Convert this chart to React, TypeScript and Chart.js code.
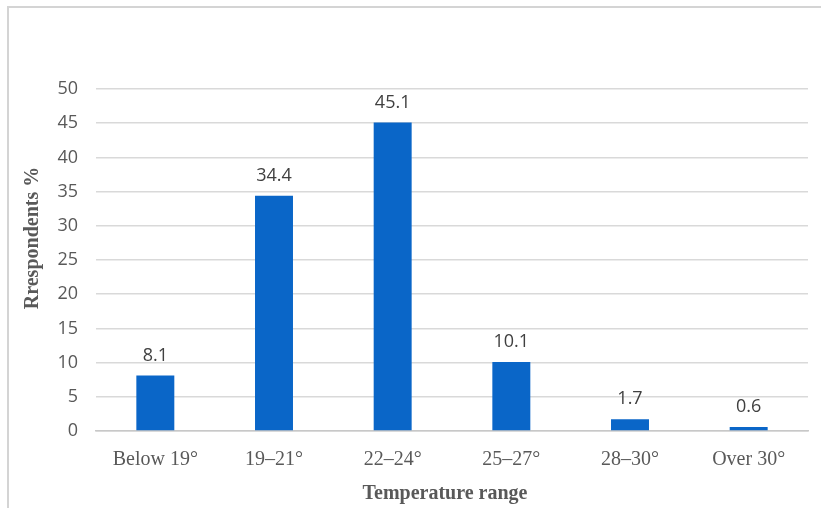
import React, { useEffect, useRef } from "react";
import { Chart, registerables } from "chart.js";

Chart.register(...registerables);

const categories = ["Below 19°", "19–21°", "22–24°", "25–27°", "28–30°", "Over 30°"];
const respondents = [8.1, 34.4, 45.1, 10.1, 1.7, 0.6];
const valueLabels = ["8.1", "34.4", "45.1", "10.1", "1.7", "0.6"];
const yTitle = "Rrespondents %";
const xTitle = "Temperature range";

const BAR = "#0A66C8";
const TEXT = "#595959";

const labelPlugin = {
  id: "valueLabels",
  afterDatasetsDraw(chart: any) {
    const ctx = chart.ctx;
    const meta = chart.getDatasetMeta(0);
    ctx.save();
    ctx.font = '18px "Open Sans"';
    ctx.fillStyle = "#404040";
    ctx.textAlign = "center";
    ctx.textBaseline = "middle";
    meta.data.forEach((el: any, i: number) => {
      ctx.fillText(valueLabels[i], el.x, el.y - 20);
    });
    ctx.restore();
  },
};

const titlesPlugin = {
  id: "axisTitles",
  afterDraw(chart: any) {
    const ctx = chart.ctx;
    const area = chart.chartArea;
    ctx.save();
    ctx.font = 'bold 20px "Liberation Serif"';
    ctx.fillStyle = TEXT;
    ctx.textAlign = "center";
    ctx.textBaseline = "middle";
    ctx.fillText(xTitle, (area.left + area.right) / 2 - 7, 494);
    ctx.translate(33, (area.top + area.bottom) / 2 - 22);
    ctx.rotate(-Math.PI / 2);
    ctx.fillText(yTitle, 0, 0);
    ctx.restore();
  },
};

export default function App() {
  const ref = useRef<HTMLCanvasElement | null>(null);

  useEffect(() => {
    if (!ref.current) return;
    const chart = new Chart(ref.current, {
      type: "bar",
      data: {
        labels: categories,
        datasets: [
          {
            data: respondents,
            backgroundColor: BAR,
            borderWidth: 0,
            barPercentage: 0.32,
            categoryPercentage: 1,
          },
        ],
      },
      options: {
        responsive: false,
        animation: false,
        layout: { padding: { top: 89, right: 13, left: 0, bottom: 0 } },
        plugins: {
          legend: { display: false },
          tooltip: { enabled: false },
        },
        scales: {
          x: {
            grid: { display: false, drawTicks: false },
            border: { display: true, color: "#C8C8C8", width: 1.5 },
            ticks: {
              color: TEXT,
              font: { family: "Liberation Serif", size: 20 },
              padding: 17,
            },
            afterFit: (s: any) => {
              s.height = 77;
            },
          },
          y: {
            min: 0,
            max: 50,
            grid: { color: "#D9D9D9", lineWidth: 1.5, drawTicks: false },
            border: { display: false },
            ticks: {
              stepSize: 5,
              color: TEXT,
              font: { family: "Open Sans", size: 18 },
              padding: 18,
            },
            afterFit: (s: any) => {
              s.width = 96;
            },
          },
        },
      },
      plugins: [labelPlugin, titlesPlugin],
    });
    return () => chart.destroy();
  }, []);

  return (
    <div
      style={{
        position: "fixed",
        left: 0,
        top: 0,
        width: 821,
        height: 508,
        background: "#fff",
      }}
    >
      <div
        style={{
          position: "absolute",
          left: 7,
          top: 6,
          right: -4,
          bottom: -4,
          borderTop: "2px solid #D4D4D4",
          borderLeft: "2px solid #D4D4D4",
        }}
      />
      <canvas ref={ref} width={821} height={508} style={{ position: "absolute", left: 0, top: 0 }} />
    </div>
  );
}
